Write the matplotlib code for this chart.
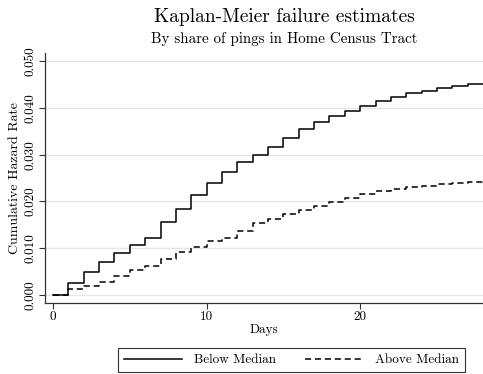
import matplotlib
matplotlib.use("Agg")
import matplotlib.pyplot as plt
import numpy as np

plt.rcParams['font.family'] = ['cmr10', 'DejaVu Serif']
plt.rcParams['axes.formatter.use_mathtext'] = True

days = list(range(0, 29))
below_median = [0.0, 0.0025, 0.00485, 0.0070, 0.0089, 0.0107, 0.0123, 0.0156, 0.0184,
                0.0213, 0.0239, 0.0264, 0.0284, 0.0300, 0.0317, 0.0336, 0.0354, 0.0369,
                0.0383, 0.0394, 0.0404, 0.0414, 0.0424, 0.0432, 0.0437, 0.0442, 0.0447,
                0.0451, 0.0451]
above_median = [0.0, 0.0012, 0.0020, 0.0028, 0.0041, 0.0053, 0.0063, 0.0077, 0.0091,
                0.0103, 0.0115, 0.0123, 0.0137, 0.0153, 0.0162, 0.0173, 0.0182, 0.0191,
                0.0198, 0.0207, 0.0215, 0.0222, 0.0227, 0.0231, 0.0234, 0.0237, 0.0240,
                0.0242, 0.0242]
y_ticks = [0.0, 0.01, 0.02, 0.03, 0.04, 0.05]
y_tick_labels = ["0.000", "0.010", "0.020", "0.030", "0.040", "0.050"]
x_ticks = [0, 10, 20]

fig = plt.figure(figsize=(4.83, 3.74), dpi=100)
ax = fig.add_axes([0.0932, 0.1898, 0.9068, 0.668])

ax.step(days, below_median, where='post', color='black', lw=1.1, label='Below Median')
ax.step(days, above_median, where='post', color='black', lw=1.1, ls=(0, (4, 2.5)), label='Above Median')

ax.set_xlim(-0.52, 28.0)
ax.set_ylim(-0.0017, 0.0517)
ax.set_yticks(y_ticks)
ax.set_yticklabels(y_tick_labels, rotation=90, va='center', fontsize=9.5)
ax.set_xticks(x_ticks)
ax.set_xticklabels([str(t) for t in x_ticks], fontsize=9.5)
ax.yaxis.grid(True, color='#e6e6e6', lw=0.9)
ax.set_axisbelow(True)
for s in ['top', 'right']:
    ax.spines[s].set_visible(False)
for s in ['left', 'bottom']:
    ax.spines[s].set_color('#333333')
    ax.spines[s].set_linewidth(0.9)
ax.tick_params(direction='out', length=4, width=0.8, color='#333333', pad=2)
ax.set_xlabel('Days', fontsize=9.5, labelpad=0)
ax.set_ylabel('Cumulative Hazard Rate', fontsize=10, labelpad=2.5)

fig.text(0.588, 0.955, 'Kaplan-Meier failure estimates', ha='center', va='center', fontsize=14)
fig.text(0.588, 0.895, 'By share of pings in Home Census Tract', ha='center', va='center', fontsize=10.8)

leg = fig.legend(loc='center', bbox_to_anchor=(0.6035, 0.037), ncol=2, fontsize=9.5,
                 frameon=True, fancybox=False, edgecolor='black', handlelength=4.4,
                 columnspacing=2.2, borderpad=0.45, handletextpad=0.9)
leg.get_frame().set_linewidth(0.8)

fig.savefig('out.png', dpi=100)
